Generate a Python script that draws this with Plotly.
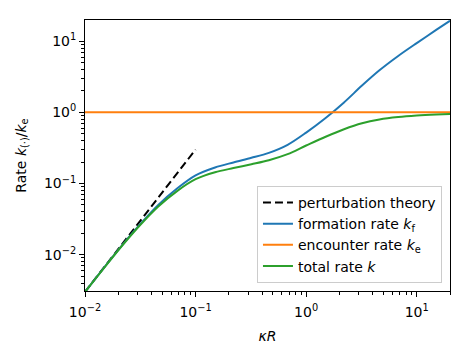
import plotly.graph_objects as go

# values
kappa_R = [0.01, 0.015, 0.022, 0.032, 0.046, 0.068, 0.1, 0.15, 0.22, 0.32, 0.46,
           0.68, 1.0, 1.5, 2.2, 3.2, 4.6, 6.8, 10.0, 15.0, 20.0]
formation_rate = [0.003, 0.0067, 0.0140, 0.0275, 0.050, 0.085, 0.130, 0.168, 0.198,
                  0.230, 0.270, 0.350, 0.52, 0.834, 1.38, 2.38, 3.9, 6.2, 9.4,
                  14.4, 19.4]
total_rate = [0.003, 0.00666, 0.0138, 0.0268, 0.0476, 0.0783, 0.115, 0.144, 0.165,
              0.187, 0.213, 0.259, 0.342, 0.455, 0.580, 0.704, 0.796, 0.861, 0.904,
              0.935, 0.951]
encounter_x = [0.01, 20.0]
encounter_rate = [1.0, 1.0]
pert_x = [0.01, 0.1]
pert_rate = [0.003, 0.3]

major_y = [0.01, 0.1, 1, 10]
major_y_text = ["10<sup>−2</sup>", "10<sup>−1</sup>", "10<sup>0</sup>", "10<sup>1</sup>"]
major_x = [0.01, 0.1, 1, 10]
major_x_text = ["10<sup>−2</sup>", "10<sup>−1</sup>", "10<sup>0</sup>", "10<sup>1</sup>"]

minor_x = [m * 10 ** e for e in (-2, -1, 0, 1) for m in range(2, 10) if m * 10 ** e <= 20]
minor_y = [m * 10 ** e for e in (-3, -2, -1, 0, 1) for m in range(2, 10)
           if 0.003 <= m * 10 ** e <= 20]

fig = go.Figure()
fig.add_trace(go.Scatter(x=pert_x, y=pert_rate, mode="lines", name="perturbation theory",
                         legendgroup="a",
                         line=dict(color="black", width=2, dash="8px,4px")))
fig.add_trace(go.Scatter(x=kappa_R, y=formation_rate, mode="lines", legendgroup="b",
                         name="formation rate <i>k</i><sub>f</sub>",
                         line=dict(color="#1f77b4", width=2, shape="spline", smoothing=0.9)))
fig.add_trace(go.Scatter(x=encounter_x, y=encounter_rate, mode="lines", legendgroup="c",
                         name="encounter rate <i>k</i><sub>e</sub>",
                         line=dict(color="#ff7f0e", width=2)))
fig.add_trace(go.Scatter(x=kappa_R, y=total_rate, mode="lines", legendgroup="d",
                         name="total rate <i>k</i>",
                         line=dict(color="#2ca02c", width=2, shape="spline", smoothing=0.9)))

axis_common = dict(
    showgrid=False, zeroline=False, showline=True, mirror=True,
    linecolor="black", linewidth=1, ticks="outside", ticklen=5, tickwidth=1,
    tickcolor="black", tickfont=dict(size=14, color="black"),
)

fig.update_xaxes(type="log", range=[-2, 1.301], tickvals=major_x, ticktext=major_x_text,
                 ticklabelstandoff=3,
                 title=dict(text="<i>κR</i>", font=dict(size=14, color="black"), standoff=12),
                 minor=dict(tickvals=minor_x, ticks="outside", ticklen=3, tickcolor="black"),
                 **axis_common)
fig.update_yaxes(type="log", range=[-2.51, 1.298], tickvals=major_y, ticktext=major_y_text,
                 title=dict(text="Rate <i>k</i><sub>(·)</sub>/<i>k</i><sub>e</sub>",
                            font=dict(size=14, color="black"), standoff=14),
                 minor=dict(tickvals=minor_y, ticks="outside", ticklen=3, tickcolor="black"),
                 **axis_common)

# page body adds an 8px offset, so the figure is sized down to keep the plot area in place
fig.update_layout(
    width=462, height=347,
    margin=dict(l=77, r=20, t=12, b=64),
    plot_bgcolor="white", paper_bgcolor="white",
    font=dict(family="DejaVu Sans", size=14, color="black"),
    legend=dict(x=0.978, y=0.03, xanchor="right", yanchor="bottom",
                bgcolor="rgba(255,255,255,0.8)", bordercolor="#cccccc", borderwidth=1,
                font=dict(size=14), tracegroupgap=7, traceorder="normal"),
)

fig.write_html("out.html")
